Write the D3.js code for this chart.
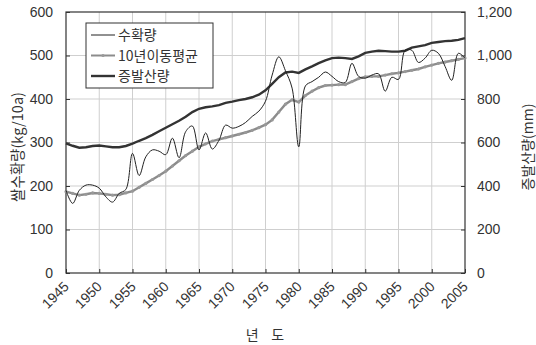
<!DOCTYPE html>
<html>
<head>
<meta charset="utf-8" />
<script src="https://d3js.org/d3.v7.min.js"></script>
<style>
html, body { margin: 0; background: #fff; }
#chart { position: relative; width: 536px; height: 345px; }
text { font-family: "Noto Sans CJK KR", sans-serif; fill: #333; }
text.num { font-family: "Liberation Sans", Arial, sans-serif; }
.yr {
  position: absolute;
  font-family: "Liberation Sans", Arial, sans-serif;
  font-size: 14px;
  line-height: 14px;
  color: #333;
  white-space: nowrap;
  transform-origin: 100% 50%;
  transform: rotate(-45deg);
}
</style>
</head>
<body>
<div id="chart"></div>
<script>
// years 1945..2005
var years = d3.range(1945, 2006);

// 수확량 (kg/10a)
var yieldVals = [190, 160, 190, 202, 202, 195, 175, 163, 183, 192,
  275, 224, 267, 283, 280, 272, 310, 265, 325, 338,
  283, 322, 285, 305, 340, 333, 337, 346, 360, 372,
  395, 455, 497, 465, 425, 290, 430, 440, 450, 462,
  452, 440, 438, 482, 452, 448, 455, 458, 418, 450,
  445, 512, 512, 484, 494, 512, 505, 475, 443, 505, 494];

// 10년이동평균 (kg/10a)
var maVals = [187, 183, 179, 181, 184, 183, 181, 179, 180, 184,
  188, 197, 206, 215, 224, 234, 246, 258, 270, 280,
  290, 297, 303, 307, 311, 315, 319, 323, 328, 334,
  341, 352, 370, 388, 398, 393, 408, 418, 426, 431,
  432, 433, 433, 440, 447, 451, 452, 452, 455, 458,
  460, 463, 466, 469, 474, 478, 482, 485, 488, 491, 494];

// 증발산량 (mm)
var evapVals = [596, 585, 576, 578, 584, 586, 582, 578, 578, 584,
  595, 608, 620, 635, 652, 668, 684, 700, 718, 740,
  755, 762, 766, 772, 782, 788, 795, 800, 808, 820,
  840, 870, 900, 922, 926, 920, 936, 950, 965, 978,
  988, 990, 988, 984, 996, 1012, 1018, 1022, 1020, 1018,
  1018, 1022, 1036, 1042, 1048, 1058, 1062, 1066, 1068, 1072, 1080];

var xTicks = d3.range(1945, 2006, 5);
var yLeftTicks = [0, 100, 200, 300, 400, 500, 600];
var yRightTicks = [0, 200, 400, 600, 800, 1000, 1200];

var W = 536, H = 345;
var L = 66, R = 465, T = 12, B = 273;

var svg = d3.select("#chart").append("svg")
  .attr("width", W).attr("height", H)
  .style("position", "absolute").style("left", 0).style("top", 0);

var x = d3.scaleLinear().domain([1945, 2005]).range([L, R]);
var y = d3.scaleLinear().domain([0, 600]).range([B, T]);
var y2 = d3.scaleLinear().domain([0, 1200]).range([B, T]);

// grid
svg.append("g").selectAll("line").data(xTicks.slice(1, -1)).enter().append("line")
  .attr("x1", d => x(d)).attr("x2", d => x(d))
  .attr("y1", T).attr("y2", B)
  .attr("stroke", "#cfcfcf").attr("stroke-width", 1);
svg.append("g").selectAll("line").data(yLeftTicks.slice(1, -1)).enter().append("line")
  .attr("x1", L).attr("x2", R)
  .attr("y1", d => y(d)).attr("y2", d => y(d))
  .attr("stroke", "#cfcfcf").attr("stroke-width", 1);

// axes (ticks inward), year labels drawn separately
var gx = svg.append("g").attr("transform", "translate(0," + B + ")")
  .call(d3.axisBottom(x).tickValues(xTicks).tickSize(-4).tickFormat(() => ""));
gx.select(".domain").remove();

var gy = svg.append("g").attr("transform", "translate(" + L + ",0)")
  .call(d3.axisLeft(y).tickValues(yLeftTicks).tickSize(-4).tickPadding(13));
gy.select(".domain").remove();
gy.selectAll("text").attr("font-size", 14).attr("class", "num");

var gy2 = svg.append("g").attr("transform", "translate(" + R + ",0)")
  .call(d3.axisRight(y2).tickValues(yRightTicks).tickSize(-4).tickPadding(12).tickFormat(d3.format(",")));
gy2.select(".domain").remove();
gy2.selectAll("text").attr("font-size", 14).attr("class", "num");

svg.selectAll(".tick line").attr("stroke", "#333");
svg.selectAll(".tick text").attr("fill", "#333");

// rotated year labels as html, right end at the tick
d3.select("#chart").selectAll("div.yr").data(xTicks).enter().append("div")
  .attr("class", "yr")
  .text(d => d)
  .each(function (d) {
    var w = this.getBoundingClientRect().width;
    d3.select(this)
      .style("left", (x(d) + 1 - w) + "px")
      .style("top", (B + 4) + "px");
  });

// frame
svg.append("rect")
  .attr("x", L).attr("y", T).attr("width", R - L).attr("height", B - T)
  .attr("fill", "none").attr("stroke", "#333").attr("stroke-width", 1.2);

// lines
var lineYield = d3.line().x((d, i) => x(years[i])).y(d => y(d)).curve(d3.curveCatmullRom.alpha(0.5));
var lineMa = d3.line().x((d, i) => x(years[i])).y(d => y(d));
var lineEvap = d3.line().x((d, i) => x(years[i])).y(d => y2(d));

svg.append("path").datum(evapVals).attr("d", lineEvap)
  .attr("fill", "none").attr("stroke", "#333").attr("stroke-width", 2.4);
svg.append("path").datum(maVals).attr("d", lineMa)
  .attr("fill", "none").attr("stroke", "#8c8c8c").attr("stroke-width", 2.4);
svg.append("g").selectAll("circle").data(maVals).enter().append("circle")
  .attr("cx", (d, i) => x(years[i])).attr("cy", d => y(d)).attr("r", 1.6)
  .attr("fill", "#999");
svg.append("path").datum(yieldVals).attr("d", lineYield)
  .attr("fill", "none").attr("stroke", "#222").attr("stroke-width", 1);

// legend
var lg = svg.append("g");
lg.append("rect").attr("x", 86).attr("y", 23).attr("width", 127).attr("height", 65)
  .attr("fill", "#fff").attr("stroke", "#333").attr("stroke-width", 1);
var items = [
  { label: "수확량", color: "#222", w: 1, dot: false },
  { label: "10년이동평균", color: "#8c8c8c", w: 2, dot: true },
  { label: "증발산량", color: "#333", w: 2.4, dot: false }
];
items.forEach(function (it, i) {
  var yy = 35 + i * 20.5;
  lg.append("line").attr("x1", 91).attr("x2", 115).attr("y1", yy).attr("y2", yy)
    .attr("stroke", it.color).attr("stroke-width", it.w);
  if (it.dot) lg.append("circle").attr("cx", 103).attr("cy", yy).attr("r", 1.6).attr("fill", "#999");
  lg.append("text").attr("x", 118).attr("y", yy + 5).attr("font-size", 14).text(it.label);
});

// axis titles
svg.append("text").attr("transform", "translate(23,147) rotate(-90)")
  .attr("text-anchor", "middle").attr("font-size", 14.5).text("쌀수확량(kg/10a)");
svg.append("text").attr("transform", "translate(533,147) rotate(-90)")
  .attr("text-anchor", "middle").attr("font-size", 14).text("증발산량(mm)");
svg.append("text").attr("x", 265).attr("y", 340)
  .attr("text-anchor", "middle").attr("font-size", 14).attr("xml:space", "preserve").text("년    도");
</script>
</body>
</html>
